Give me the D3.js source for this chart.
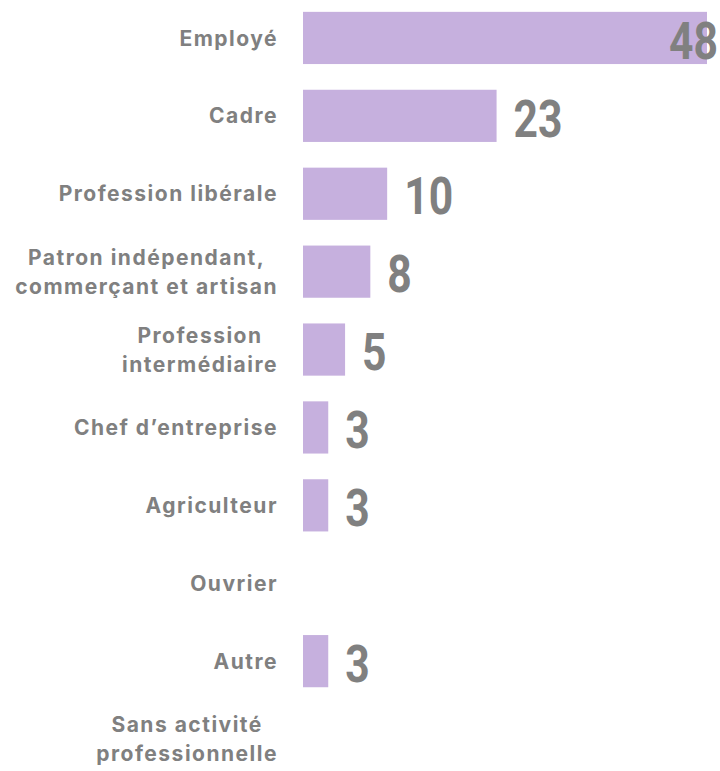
<!DOCTYPE html>
<html>
<head>
<meta charset="utf-8">
<script src="https://cdn.jsdelivr.net/npm/d3@7"></script>
<style>
  body { margin: 0; background: #fff; }
  svg { display: block; }
</style>
</head>
<body>
<svg id="chart" width="720" height="771"></svg>
<script>
// categories (multi-line labels split with |) and their values
const categories = ['Employé', 'Cadre', 'Profession libérale', 'Patron indépendant,|commerçant et artisan',
  'Profession|intermédiaire', "Chef d’entreprise", 'Agriculteur', 'Ouvrier', 'Autre', 'Sans activité|professionnelle'];
const values = [48, 23, 10, 8, 5, 3, 3, null, 3, null];

const width = 720, height = 771;
const labelRight = 278;
const barLeft = 303;
const grey = '#808080';

const svg = d3.select('#chart');

const x = d3.scaleLinear()
  .domain([0, 48])
  .range([barLeft, 707]);

const y = d3.scaleBand()
  .domain(categories)
  .range([-1, 778])
  .paddingInner(0.33)
  .paddingOuter(0.165);

const rows = categories.map((c, i) => ({ cat: c, val: values[i] }));

// bars
svg.selectAll('rect.bar')
  .data(rows.filter(d => d.val != null))
  .join('rect')
  .attr('class', 'bar')
  .attr('x', x(0))
  .attr('y', d => y(d.cat))
  .attr('width', d => x(d.val) - x(0))
  .attr('height', y.bandwidth())
  .attr('fill', '#c6b0de');

// category labels, multi-line ones centered inside a right aligned block
const lineH = 29;
const labels = svg.selectAll('text.cat')
  .data(rows)
  .join('text')
  .attr('class', 'cat')
  .attr('font-family', 'Inter, Roboto, sans-serif')
  .attr('font-weight', 700)
  .attr('font-size', 21)
  .attr('letter-spacing', 1.5)
  .attr('fill', grey);

labels.each(function (d) {
  const t = d3.select(this);
  const lines = d.cat.split('|');
  const cy = y(d.cat) + y.bandwidth() / 2;
  lines.forEach((l, j) => {
    t.append('tspan')
      .attr('y', cy + (j - (lines.length - 1) / 2) * lineH)
      .attr('dy', '0.36em')
      .text(l);
  });
  const spans = t.selectAll('tspan').nodes();
  const maxW = d3.max(spans, s => s.getComputedTextLength());
  if (lines.length > 1) {
    t.attr('text-anchor', 'middle');
    t.selectAll('tspan').attr('x', labelRight - maxW / 2);
  } else {
    t.attr('text-anchor', 'end');
    t.selectAll('tspan').attr('x', labelRight);
  }
});

// value labels, squeezed horizontally to look condensed
const sx = 0.82;
svg.selectAll('text.val')
  .data(rows.filter(d => d.val != null))
  .join('text')
  .attr('class', 'val')
  .attr('font-family', 'Roboto, sans-serif')
  .attr('font-weight', 700)
  .attr('font-size', 52)
  .attr('fill', grey)
  .attr('dy', '0.36em')
  .text(d => d.val)
  .each(function (d) {
    const w = this.getComputedTextLength() * sx;
    const cy = y(d.cat) + y.bandwidth() / 2 + 2;
    let pos = x(d.val) + 17;
    if (pos + w > width - 2) pos = width - 2 - w;
    d3.select(this).attr('transform', `translate(${pos},${cy}) scale(${sx},1)`);
  });
</script>
</body>
</html>
